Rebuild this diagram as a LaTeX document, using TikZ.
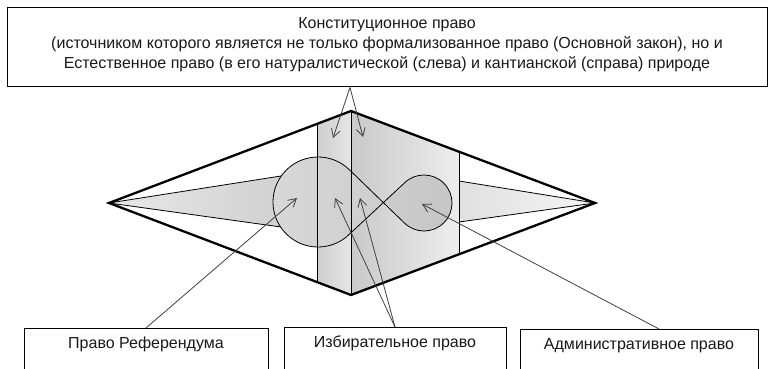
\documentclass[tikz,border=0pt]{standalone}
\usepackage{fontspec}
\setmainfont{Liberation Sans}
\usetikzlibrary{arrows.meta,calc}
\begin{document}
\begin{tikzpicture}[x=1pt,y=1pt,
  box/.style={draw=black, line width=1pt, fill=white},
  lbl/.style={font=\fontsize{16}{20}\selectfont, text=black!90},
  lowbox/.style={box, lbl, text height=20pt, text depth=30pt, inner ysep=0pt, anchor=north},
  conn/.style={draw=black!75, line width=0.8pt, -{Straight Barb[length=8pt,width=9pt]}},
  edge/.style={draw=black, line width=0.8pt},
  outline/.style={draw=black, line width=2.3pt, line join=miter}]
\useasboundingbox (0,0) rectangle (771,369);
% diamond corners
\coordinate (L) at (109,166);
\coordinate (T) at (351,258);
\coordinate (R) at (595,166);
\coordinate (B) at (351,74);
\coordinate (p1t) at (317,245.1);
\coordinate (p1b) at (317,86.9);
\coordinate (p2t) at (459,217.3);
\coordinate (p2b) at (459,114.7);
\fill[white] (L)--(T)--(R)--(B)--cycle;
% panels
\shade[left color=gray!38, right color=gray!20] (p1t)--(T)--(B)--(p1b)--cycle;
\shade[left color=gray!42, right color=gray!14] (T)--(p2t)--(p2b)--(B)--cycle;
% wedges
\shade[left color=gray!18, right color=gray!38] (L)--(300,196)--(300,139.3)--cycle;
\draw[edge] (281,193)--(L)--(281,142);
\shade[left color=gray!24, right color=gray!8] (459,188)--(R)--(459,147)--cycle;
\draw[edge] (459,188)--(R)--(459,147);
% figure eight
\path[shade, left color=gray!30, middle color=gray!5, right color=gray!45, draw=black, line width=0.8pt]
  ($(318,167)+(-45:45)$) arc[start angle=-45, end angle=-315, radius=45]
  -- ($(424,166)+(225:28)$) arc[start angle=225, end angle=495, radius=28] -- cycle;
% vertical lines
\draw[edge] (p1t)--(p1b);
\draw[edge] (T)--(B);
\draw[edge] (p2t)--(p2b);
\draw[outline] (L)--(T)--(R)--(B)--cycle;
% boxes
\node[box, lbl, minimum width=760pt, minimum height=79pt] (top) at (387,321.5)
  {\begin{tabular}{@{}c@{}}Конституционное право\\
   (источником которого является не только формализованное право (Основной закон), но и\\
   Естественное право (в его натуралистической (слева) и кантианской (справа) природе\\[5.6pt]\end{tabular}};
\node[lowbox, minimum width=244pt] (ref) at (146,41) {Право Референдума};
\node[lowbox, minimum width=222pt] (mid) at (395,42) {Избирательное право};
\node[lowbox, minimum width=238pt] (adm) at (639,40) {Административное право};
% arrow tips
\coordinate (src) at ($(top.south)+(-37,0)$);
\coordinate (tA) at (333,231);
\coordinate (tB) at (363,232);
\coordinate (tC) at (297,171);
\coordinate (tD) at (335,171);
\coordinate (tE) at (360,171);
\coordinate (tF) at (422,165);
\coordinate (admsrc) at ($(adm.north)+(20,0)$);
\draw[conn] (src) -- (tA);
\draw[conn] (src) -- (tB);
\draw[conn] (ref.north) -- (tC);
\draw[conn] (mid.north) -- (tD);
\draw[conn] (mid.north) -- (tE);
\draw[conn] (admsrc) -- (tF);
\end{tikzpicture}
\end{document}
